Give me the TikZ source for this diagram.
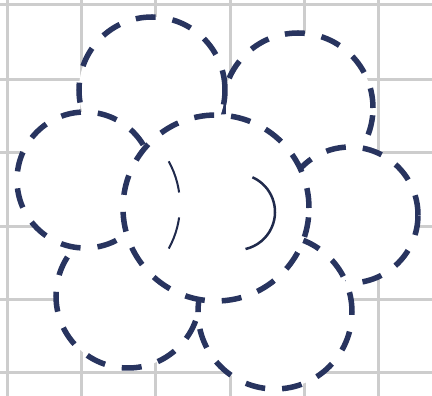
\documentclass[tikz,border=0pt]{standalone}
\usetikzlibrary{calc}
\definecolor{inkblue}{RGB}{40,52,95}
\definecolor{gridgray}{RGB}{205,205,205}
\tikzset{every picture/.style={line width=0.75pt}}
\tikzset{
  bubble/.style={draw=inkblue, fill=white, line width=5.5pt, dash pattern=on 20pt off 17pt},
  gridline/.style={gridgray, line width=3pt},
}

\begin{document}
\begin{tikzpicture}[x=1pt,y=1pt]
    \useasboundingbox (0,0) rectangle (432,396);
    % Graph paper
    \fill[white] (0,0) rectangle (432,396);
    \foreach \gx in {7,81,155,230,304,378}
        \draw[gridline] (\gx,0) -- (\gx,396);
    \foreach \gy in {23,96,169,243,316,391}
        \draw[gridline] (0,\gy) -- (432,\gy);

    % Outer bubbles (back to front)
    \draw[bubble] (298,288) circle (75);
    \draw[bubble] (152,306) circle (73);
    \draw[bubble] (128,100) circle (72);
    \draw[bubble] (85,216) circle (68);
    \draw[bubble] (350,181) circle (68);
    \draw[bubble] (275,84) circle (77);

    % Middle bubble
    \draw[bubble] (216,188) circle (93);

    % Arcs inside the middle bubble
    \draw[inkblue!80!black, line width=2pt, dash pattern=on 33pt off 25pt]
        ($(90,191)+(29:90)$) arc (29:-29:90);
    \draw[inkblue!80!black, line width=2.5pt]
        ($(237,184)+(66:38)$) arc (66:-77:38);
\end{tikzpicture}
\end{document}
